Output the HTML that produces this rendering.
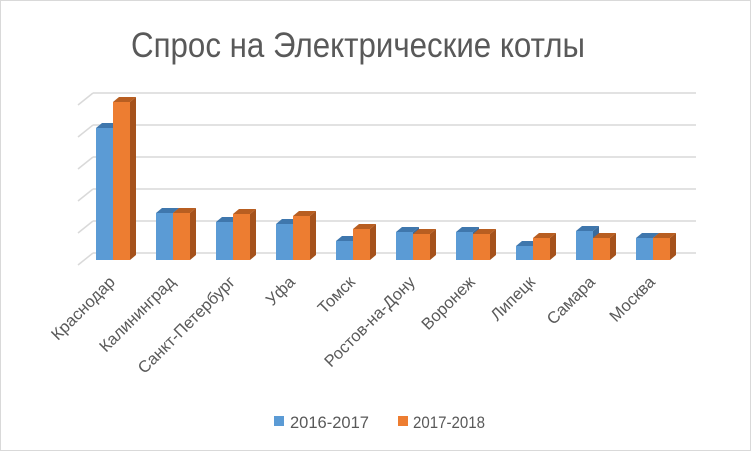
<!DOCTYPE html>
<html><head><meta charset="utf-8"><style>
html,body{margin:0;padding:0;background:#fff;}
svg{display:block;font-family:"Liberation Sans","DejaVu Sans",sans-serif;}
.bf{fill:#5b9bd5}.bt{fill:#3f77ad}.bs{fill:#3a6b9c}
.of{fill:#ed7d31}.ot{fill:#b85e21}.os{fill:#a5521c}
</style></head><body>
<svg width="752" height="452" viewBox="0 0 752 452" xmlns="http://www.w3.org/2000/svg">
<rect x="0.5" y="0.5" width="750" height="450" fill="#fff" stroke="#d9d9d9"/>
<text x="131" y="57" font-size="35" fill="#595959" textLength="454" lengthAdjust="spacingAndGlyphs">Спрос на Электрические котлы</text>
<g stroke="#d9d9d9" stroke-width="1.5">
<line x1="93" y1="93" x2="696" y2="93"/><line x1="93" y1="125" x2="696" y2="125"/>
<line x1="93" y1="157" x2="696" y2="157"/><line x1="93" y1="189" x2="696" y2="189"/>
<line x1="93" y1="221" x2="696" y2="221"/><line x1="93" y1="253" x2="696" y2="253"/>
<line x1="93" y1="93" x2="78" y2="105"/><line x1="93" y1="125" x2="78" y2="137"/>
<line x1="93" y1="157" x2="78" y2="169"/><line x1="93" y1="189" x2="78" y2="201"/>
<line x1="93" y1="221" x2="78" y2="233"/><line x1="93" y1="253" x2="78" y2="265"/>
</g>
<g>
<polygon class="bs" points="113,128 119,123 119,255 113,260"/><polygon class="bt" points="96,128 102,123 119,123 113,128"/><rect class="bf" x="96" y="128" width="17" height="132"/>
<polygon class="os" points="130,102 136,97 136,255 130,260"/><polygon class="ot" points="113,102 119,97 136,97 130,102"/><rect class="of" x="113" y="102" width="17" height="158"/>

<polygon class="bs" points="173,213 179,208 179,255 173,260"/><polygon class="bt" points="156,213 162,208 179,208 173,213"/><rect class="bf" x="156" y="213" width="17" height="47"/>
<polygon class="os" points="190,213 196,208 196,255 190,260"/><polygon class="ot" points="173,213 179,208 196,208 190,213"/><rect class="of" x="173" y="213" width="17" height="47"/>

<polygon class="bs" points="233,222 239,217 239,255 233,260"/><polygon class="bt" points="216,222 222,217 239,217 233,222"/><rect class="bf" x="216" y="222" width="17" height="38"/>
<polygon class="os" points="250,214 256,209 256,255 250,260"/><polygon class="ot" points="233,214 239,209 256,209 250,214"/><rect class="of" x="233" y="214" width="17" height="46"/>

<polygon class="bs" points="293,224 299,219 299,255 293,260"/><polygon class="bt" points="276,224 282,219 299,219 293,224"/><rect class="bf" x="276" y="224" width="17" height="36"/>
<polygon class="os" points="310,216 316,211 316,255 310,260"/><polygon class="ot" points="293,216 299,211 316,211 310,216"/><rect class="of" x="293" y="216" width="17" height="44"/>

<polygon class="bs" points="353,241 359,236 359,255 353,260"/><polygon class="bt" points="336,241 342,236 359,236 353,241"/><rect class="bf" x="336" y="241" width="17" height="19"/>
<polygon class="os" points="370,229 376,224 376,255 370,260"/><polygon class="ot" points="353,229 359,224 376,224 370,229"/><rect class="of" x="353" y="229" width="17" height="31"/>

<polygon class="bs" points="413,232 419,227 419,255 413,260"/><polygon class="bt" points="396,232 402,227 419,227 413,232"/><rect class="bf" x="396" y="232" width="17" height="28"/>
<polygon class="os" points="430,234 436,229 436,255 430,260"/><polygon class="ot" points="413,234 419,229 436,229 430,234"/><rect class="of" x="413" y="234" width="17" height="26"/>

<polygon class="bs" points="473,232 479,227 479,255 473,260"/><polygon class="bt" points="456,232 462,227 479,227 473,232"/><rect class="bf" x="456" y="232" width="17" height="28"/>
<polygon class="os" points="490,234 496,229 496,255 490,260"/><polygon class="ot" points="473,234 479,229 496,229 490,234"/><rect class="of" x="473" y="234" width="17" height="26"/>

<polygon class="bs" points="533,246 539,241 539,255 533,260"/><polygon class="bt" points="516,246 522,241 539,241 533,246"/><rect class="bf" x="516" y="246" width="17" height="14"/>
<polygon class="os" points="550,238 556,233 556,255 550,260"/><polygon class="ot" points="533,238 539,233 556,233 550,238"/><rect class="of" x="533" y="238" width="17" height="22"/>

<polygon class="bs" points="593,231 599,226 599,255 593,260"/><polygon class="bt" points="576,231 582,226 599,226 593,231"/><rect class="bf" x="576" y="231" width="17" height="29"/>
<polygon class="os" points="610,238 616,233 616,255 610,260"/><polygon class="ot" points="593,238 599,233 616,233 610,238"/><rect class="of" x="593" y="238" width="17" height="22"/>

<polygon class="bs" points="653,238 659,233 659,255 653,260"/><polygon class="bt" points="636,238 642,233 659,233 653,238"/><rect class="bf" x="636" y="238" width="17" height="22"/>
<polygon class="os" points="670,238 676,233 676,255 670,260"/><polygon class="ot" points="653,238 659,233 676,233 670,238"/><rect class="of" x="653" y="238" width="17" height="22"/>
</g>
<g font-size="16.5" fill="#595959" text-anchor="end">
<text transform="translate(116,283) rotate(-45)">Краснодар</text>
<text transform="translate(176,283) rotate(-45)">Калининград</text>
<text transform="translate(236,283) rotate(-45)">Санкт-Петербург</text>
<text transform="translate(296,283) rotate(-45)">Уфа</text>
<text transform="translate(356,283) rotate(-45)">Томск</text>
<text transform="translate(416,283) rotate(-45)">Ростов-на-Дону</text>
<text transform="translate(476,283) rotate(-45)">Воронеж</text>
<text transform="translate(536,283) rotate(-45)">Липецк</text>
<text transform="translate(596,283) rotate(-45)">Самара</text>
<text transform="translate(656,283) rotate(-45)">Москва</text>
</g>
<rect x="274" y="416" width="10" height="10" fill="#5b9bd5"/>
<text x="290" y="428" font-size="17" fill="#595959" textLength="79" lengthAdjust="spacingAndGlyphs">2016-2017</text>
<rect x="398" y="416" width="10" height="10" fill="#ed7d31"/>
<text x="413" y="428" font-size="17" fill="#595959" textLength="72" lengthAdjust="spacingAndGlyphs">2017-2018</text>
</svg>
</body></html>
